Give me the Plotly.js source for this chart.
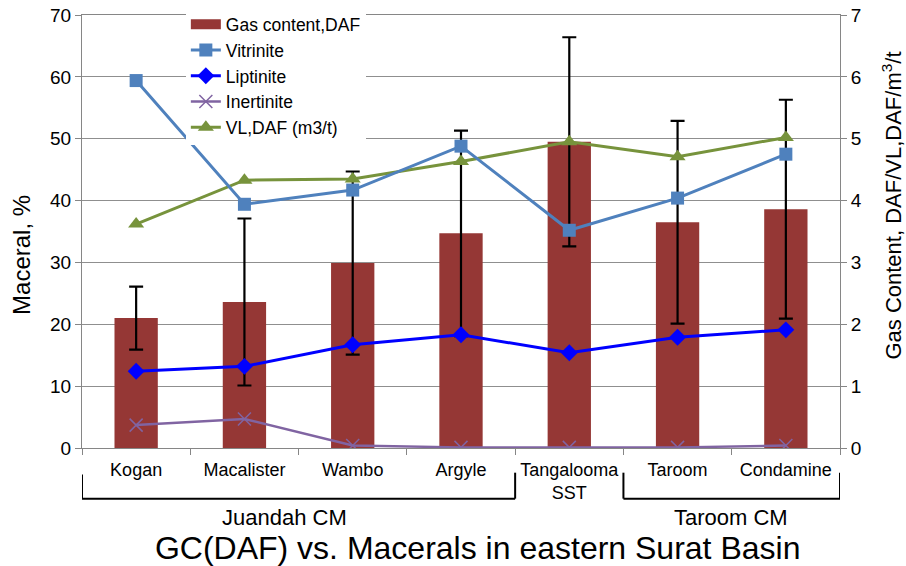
<!DOCTYPE html>
<html>
<head>
<meta charset="utf-8">
<script src="https://cdn.plot.ly/plotly-3.0.1.min.js"></script>
<style>html,body{margin:0;padding:0;background:#fff;}#chart{width:906px;height:566px;}</style>
</head>
<body>
<div id="chart"></div>
<script>
// ---- data ----
var categories = ["Kogan", "Macalister", "Wambo", "Argyle", "Tangalooma<br>SST", "Taroom", "Condamine"];
var gasContent = [2.10, 2.36, 2.99, 3.47, 4.95, 3.65, 3.86];      // m3/t, right axis
var gasContentErr = [0.51, 1.35, 1.48, 1.66, 1.69, 1.64, 1.77];  // +/- error bar
var vitrinite = [59.4, 39.4, 41.7, 48.8, 35.2, 40.4, 47.5];      // %, left axis
var liptinite = [12.4, 13.2, 16.7, 18.3, 15.4, 17.9, 19.1];
var inertinite = [3.7, 4.7, 0.4, 0.1, 0.1, 0.1, 0.4];
var vlDaf = [3.62, 4.33, 4.35, 4.63, 4.95, 4.71, 5.02];          // m3/t, right axis
var leftTicks = [0, 10, 20, 30, 40, 50, 60, 70];
var rightTicks = [0, 1, 2, 3, 4, 5, 6, 7];
var groupLabels = ["Juandah CM", "Taroom CM"];

var FONT = "'Liberation Sans', Arial, sans-serif";
var AXC = "#868686";

var traces = [
  { // legend entry for the bars (wide swatch like the original)
    type: "scatter", mode: "lines", name: "Gas content,DAF",
    x: [null], y: [null], yaxis: "y",
    line: {color: "#953735", width: 10}, hoverinfo: "skip"
  },
  {
    type: "bar", name: "Gas content,DAF", showlegend: false,
    x: categories, y: gasContent, yaxis: "y",
    marker: {color: "#953735"},
    error_y: {type: "data", array: gasContentErr, visible: true, color: "#000", thickness: 2.2, width: 7}
  },
  {
    type: "scatter", mode: "lines+markers", name: "Vitrinite",
    x: categories, y: vitrinite, yaxis: "y2",
    line: {color: "#4F81BD", width: 3},
    marker: {symbol: "square", size: 13, color: "#4F81BD"}
  },
  {
    type: "scatter", mode: "lines+markers", name: "Liptinite",
    x: categories, y: liptinite, yaxis: "y2",
    line: {color: "#0000FF", width: 3},
    marker: {symbol: "diamond", size: 13, color: "#0000FF"}
  },
  {
    type: "scatter", mode: "lines+markers", name: "Inertinite",
    x: categories, y: inertinite, yaxis: "y2",
    line: {color: "#8064A2", width: 2.5},
    marker: {symbol: "x-thin-open", size: 13, color: "#8064A2", line: {color: "#8064A2", width: 1.5}}
  },
  {
    type: "scatter", mode: "lines+markers", name: "VL,DAF (m3/t)",
    x: categories, y: vlDaf, yaxis: "y",
    line: {color: "#77933C", width: 3},
    marker: {symbol: "triangle-up", size: 14, color: "#77933C"}
  }
];

var layout = {
  width: 906, height: 566,
  margin: {l: 82, r: 66, t: 14.7, b: 117.7, autoexpand: false},
  paper_bgcolor: "#fff", plot_bgcolor: "#fff",
  font: {family: FONT, size: 18, color: "#000"},
  showlegend: true,
  bargap: 0.6,
  title: {
    text: "GC(DAF) vs. Macerals in eastern Surat Basin",
    font: {family: FONT, size: 32, color: "#000"},
    x: 0.522, xanchor: "center", y: 0.032, yanchor: "middle", xref: "paper"
  },
  legend: {
    x: 0.137, y: 1.02, xanchor: "left", yanchor: "top",
    bgcolor: "#fff", borderwidth: 0,
    font: {family: FONT, size: 17.5, color: "#000"},
    traceorder: "normal", itemwidth: 30, tracegroupgap: 0
  },
  xaxis: {
    type: "category", categoryorder: "array", categoryarray: categories,
    range: [-0.5, categories.length - 0.5],
    tickson: "boundaries", ticks: "outside", ticklen: 6, tickcolor: AXC,
    showline: true, linecolor: AXC, linewidth: 1, mirror: true,
    showgrid: false, zeroline: false,
    tickfont: {family: FONT, size: 18, color: "#000"},
    ticklabelstandoff: 5
  },
  yaxis: {
    side: "right", range: [0, 7], tickvals: rightTicks,
    showgrid: true, gridcolor: "#8f8f8f", gridwidth: 1,
    showline: true, linecolor: AXC, ticks: "outside", ticklen: 6, tickcolor: AXC,
    zeroline: false, tickfont: {family: FONT, size: 19, color: "#000"}
  },
  yaxis2: {
    side: "left", overlaying: "y", range: [0, 70], tickvals: leftTicks,
    showgrid: false, showline: true, linecolor: AXC, ticks: "outside", ticklen: 6, tickcolor: AXC,
    zeroline: false, tickfont: {family: FONT, size: 19, color: "#000"}
  },
  shapes: [
    // Juandah CM bracket
    {type: "line", xref: "x", yref: "paper", x0: -0.5, x1: -0.5, y0: -0.061, y1: -0.117, line: {color: "#000", width: 2}},
    {type: "line", xref: "x", yref: "paper", x0: -0.5, x1: 3.5, y0: -0.117, y1: -0.117, line: {color: "#000", width: 2}},
    {type: "line", xref: "x", yref: "paper", x0: 3.5, x1: 3.5, y0: -0.057, y1: -0.117, line: {color: "#000", width: 2}},
    // Taroom CM bracket
    {type: "line", xref: "x", yref: "paper", x0: 4.5, x1: 4.5, y0: -0.057, y1: -0.117, line: {color: "#000", width: 2}},
    {type: "line", xref: "x", yref: "paper", x0: 4.5, x1: 6.5, y0: -0.117, y1: -0.117, line: {color: "#000", width: 2}},
    {type: "line", xref: "x", yref: "paper", x0: 6.5, x1: 6.5, y0: -0.057, y1: -0.117, line: {color: "#000", width: 2}}
  ],
  annotations: [
    {text: groupLabels[0], xref: "paper", yref: "paper", x: 0.267, y: -0.1607, xanchor: "center", yanchor: "middle",
     showarrow: false, font: {family: FONT, size: 22, color: "#000"}},
    {text: groupLabels[1], xref: "paper", yref: "paper", x: 0.856, y: -0.1607, xanchor: "center", yanchor: "middle",
     showarrow: false, font: {family: FONT, size: 22, color: "#000"}},
    {text: "Maceral, %", xref: "paper", yref: "paper", x: -0.0792, y: 0.4458, xanchor: "center", yanchor: "middle",
     textangle: -90, showarrow: false, font: {family: FONT, size: 24, color: "#000"}},
    {text: "Gas Content, DAF/VL,DAF/m<sup>3</sup>/t", xref: "paper", yref: "paper", x: 1.068, y: 0.5588,
     xanchor: "center", yanchor: "middle", textangle: -90, showarrow: false, font: {family: FONT, size: 22, color: "#000"}}
  ]
};

Plotly.newPlot("chart", traces, layout, {displayModeBar: false, staticPlot: true});
</script>
</body>
</html>
